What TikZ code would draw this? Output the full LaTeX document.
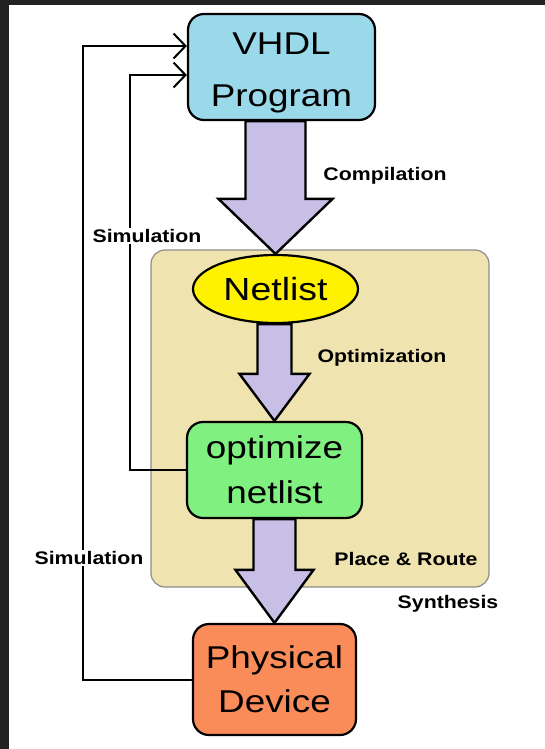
\documentclass[tikz,border=0pt]{standalone}
\usepackage{fontspec}
\setmainfont{Liberation Sans}[FakeStretch=1.17]
\usetikzlibrary{shapes.geometric,arrows.meta,calc}
\definecolor{vhdlblue}{HTML}{99D9EA}
\definecolor{synthtan}{HTML}{EFE4B0}
\definecolor{netyellow}{HTML}{FFF200}
\definecolor{optgreen}{HTML}{80F080}
\definecolor{physorange}{HTML}{FA8C5A}
\definecolor{arrowlav}{HTML}{C8BFE7}
\definecolor{framedark}{HTML}{222222}
\definecolor{synthborder}{HTML}{8C8C8C}
\newcommand\BlockArrow[5]{% #1 start (shaft top), #2 tip, #3 shaft half width, #4 head half width, #5 head length
  \draw[blockarrow] let \p1=(#1), \p2=(#2) in
    (\x2-#3,\y1) -- (\x2-#3,\y2+#5) -- (\x2-#4,\y2+#5) -- (\p2)
    -- (\x2+#4,\y2+#5) -- (\x2+#3,\y2+#5) -- (\x2+#3,\y1) -- cycle;}
\begin{document}
\begin{tikzpicture}[x=1pt,y=-1pt,
  box/.style={draw=black, line width=2.2pt, rounded corners=16pt, align=center,
    inner sep=0pt, font=\fontsize{31.5}{45}\selectfont},
  synthbox/.style={draw=synthborder, line width=1.2pt, fill=synthtan, rounded corners=14pt, inner sep=0pt},
  netnode/.style={ellipse, draw=black, line width=2.2pt, fill=netyellow, inner sep=0pt,
    font=\fontsize{32}{36}\selectfont},
  lbl/.style={font=\bfseries\fontsize{18.2}{21}\selectfont, inner sep=1.5pt},
  fb/.style={draw=black, line width=2pt, -{Straight Barb[length=12pt,width=25pt]}},
  blockarrow/.style={draw=black, line width=2.4pt, fill=arrowlav, line join=miter}
]
\useasboundingbox (0,0) rectangle (545,749);
\fill[white] (0,0) rectangle (545,749);
\fill[framedark] (0,0) rectangle (545,5);
\fill[framedark] (0,0) rectangle (8.5,749);

% synthesis region
\node[synthbox, minimum width=338pt, minimum height=337pt] (synth) at (320,418.5) {};

% main blocks
\node[box, fill=vhdlblue, minimum width=187pt, minimum height=106pt,
  font=\fontsize{31.5}{52}\selectfont] (vhdl) at (281.5,67) {\rule{0pt}{34pt}VHDL\\Program};
\node[netnode, minimum width=165pt, minimum height=68pt] (net) at (275.5,289) {Netlist};
\node[box, fill=optgreen, minimum width=175pt, minimum height=96pt] (opt) at (274.5,470) {optimize\\netlist};
\node[box, fill=physorange, minimum width=163pt, minimum height=111pt,
  font=\fontsize{31.5}{44}\selectfont] (phys) at (274.5,679.5) {Physical\\Device};

% feedback connectors
\coordinate (outerturn) at (83,46);
\coordinate (innerturn) at (130,75);
\draw[fb] (phys.west) -| (outerturn) -- (vhdl.west |- outerturn);
\draw[fb] (opt.west) -| (innerturn) -- (vhdl.west |- innerturn);

% block arrows
\BlockArrow{vhdl.south}{net.north}{30pt}{57pt}{55pt}
\BlockArrow{net.south}{opt.north}{17pt}{35pt}{47pt}
\BlockArrow{opt.south}{phys.north}{21pt}{39pt}{53pt}

% labels
\node[lbl] (comp) at (385,176) {Compilation};
\node[lbl] (optim) at (382,358) {Optimization};
\node[lbl] (pr) at (406,559) {Place \& Route};
\node[lbl] (syn) at (448,604) {Synthesis};
\node[lbl, fill=white] (sim1) at (147,236) {Simulation};
\node[lbl, fill=white] (sim2) at (89,558) {Simulation};
\end{tikzpicture}
\end{document}
